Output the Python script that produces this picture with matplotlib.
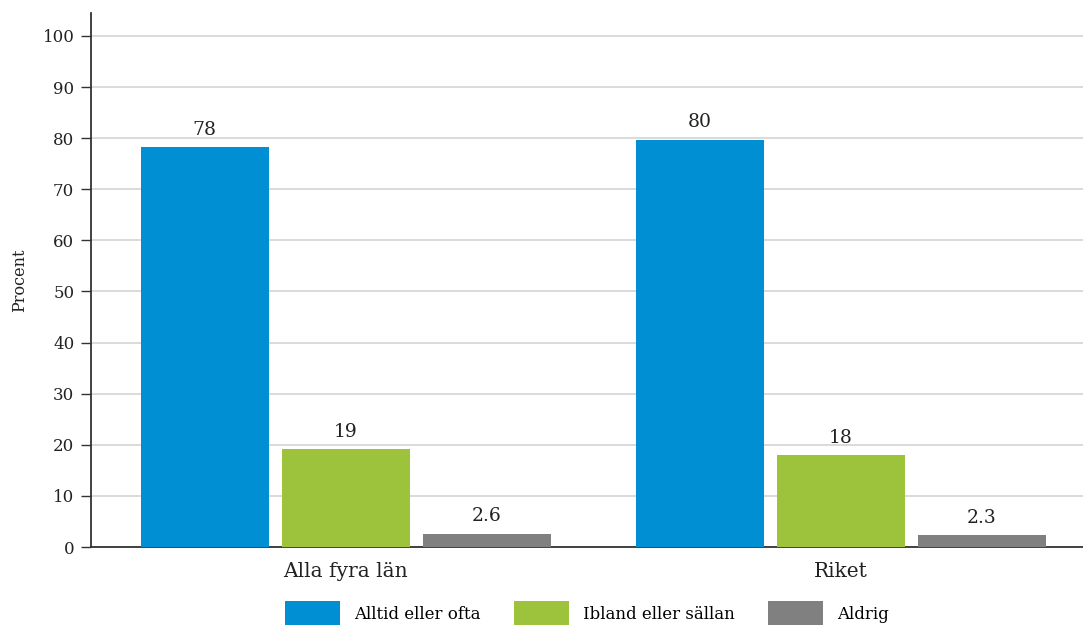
import matplotlib
matplotlib.use("Agg")
import matplotlib.pyplot as plt
import numpy as np

categories = ["Alla fyra län", "Riket"]
series_names = ["Alltid eller ofta", "Ibland eller sällan", "Aldrig"]
alltid = [78.2, 79.7]
ibland = [19.2, 18.0]
aldrig = [2.6, 2.3]
labels_alltid = ["78", "80"]
labels_ibland = ["19", "18"]
labels_aldrig = ["2.6", "2.3"]
yticks = [0, 10, 20, 30, 40, 50, 60, 70, 80, 90, 100]

colors = ["#008fd3", "#9dc23b", "#808080"]

plt.rcParams['font.family'] = ['DejaVu Serif']

fig = plt.figure(figsize=(10.83, 6.25), dpi=100)
ax = fig.add_axes([91/1083, 1-547/625, 1-91/1083, (547-13)/625])

x = np.arange(len(categories))
off = 0.285
w = 0.26
series = [alltid, ibland, aldrig]
lbls = [labels_alltid, labels_ibland, labels_aldrig]
for i, (vals, lab, c, name) in enumerate(zip(series, lbls, colors, series_names)):
    bars = ax.bar(x + (i-1)*off, vals, width=w, color=c, label=name, zorder=3)
    ax.bar_label(bars, labels=lab, padding=6, fontsize=13.5, color="#222222")

ax.set_xlim(-0.515, 1.489)
ax.set_ylim(0, 104.5)
ax.set_yticks(yticks)
ax.set_xticks(x)
ax.set_xticklabels(categories, fontsize=14.5, color="#222222")
ax.tick_params(axis='x', length=0, pad=11)
ax.tick_params(axis='y', length=7, width=1, labelsize=12, pad=5, color="#333333", labelcolor="#222222")
ax.yaxis.grid(True, color="#d4d4d4", linewidth=1.2, zorder=0)
ax.set_axisbelow(True)
for s in ["top", "right"]:
    ax.spines[s].set_visible(False)
ax.spines["left"].set_color("#333333")
ax.spines["bottom"].set_color("#333333")
ax.spines["left"].set_linewidth(1.3)
ax.spines["bottom"].set_linewidth(1.3)
ax.set_ylabel("Procent", fontsize=11.5, color="#222222", labelpad=10)

fig.legend(loc="center", bbox_to_anchor=(0.542, 0.018), ncol=3, frameon=False,
           fontsize=12, handlelength=3.3, handleheight=1.9, columnspacing=2.0,
           handletextpad=0.85)

fig.savefig("out.png", dpi=100)
